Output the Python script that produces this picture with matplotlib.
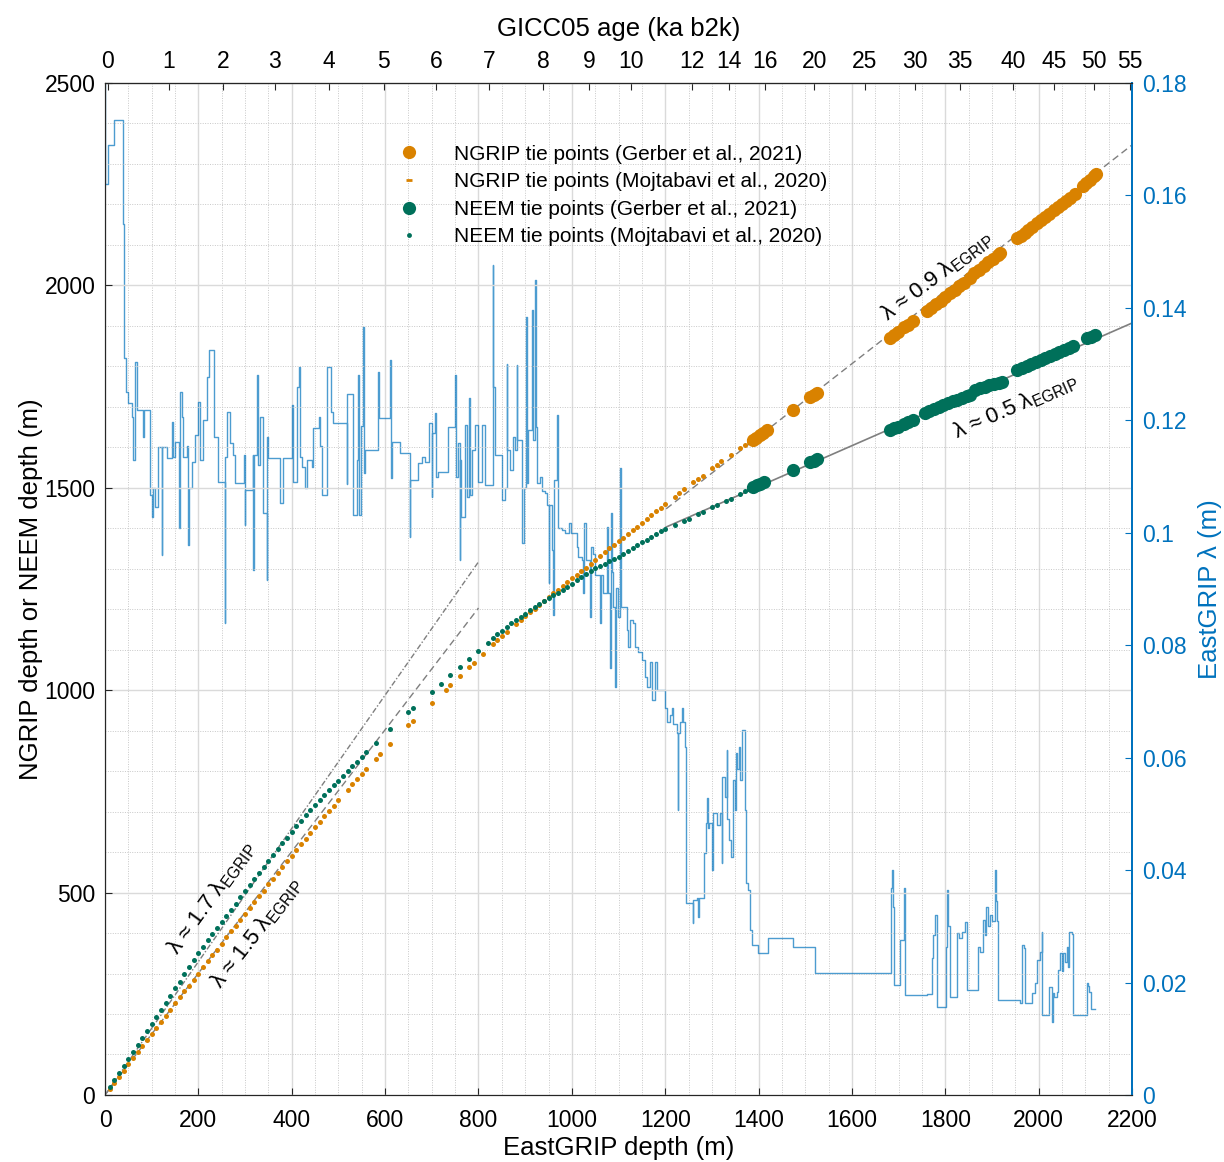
import matplotlib
matplotlib.use("Agg")
import matplotlib.pyplot as plt
from matplotlib.ticker import MultipleLocator
from matplotlib.lines import Line2D

plt.rcParams['font.family'] = ['Liberation Sans', 'DejaVu Sans']
plt.rcParams['mathtext.fontset'] = 'custom'
plt.rcParams['mathtext.rm'] = 'Liberation Sans'

ORANGE = '#D98200'
GREEN = '#00705A'
BLUE = '#0072BD'
GREY = '#7F7F7F'

# --- GICC05 age axis: age labels and the EastGRIP depth where each sits
age_labels = ['0', '1', '2', '3', '4', '5', '6', '7', '8', '9', '10', '12', '14',
              '16', '20', '25', '30', '35', '40', '45', '50', '55']
age_depth = [6, 137, 253, 364, 479, 597, 710, 822, 938, 1037, 1126, 1257, 1337,
             1413, 1519, 1628, 1735, 1832, 1946, 2033, 2119, 2196]

# --- NGRIP tie points (Mojtabavi et al., 2020): EastGRIP depth vs NGRIP depth
ngrip_moj_egrip = [10, 20, 30, 40, 50, 60, 70, 80, 90, 100, 110, 120, 130, 140, 150, 160,
                   170, 180, 190, 200, 210, 220, 230, 240, 250, 260, 270, 280, 290, 300,
                   310, 320, 330, 340, 350, 360, 370, 380, 390, 400, 410, 420, 430, 440,
                   450, 460, 470, 480, 490, 500, 520, 530, 540, 550, 560, 580, 590,
                   610, 650, 660, 700, 730, 740, 760,
                   780, 790, 810, 830, 840, 850, 860, 880, 890, 900, 910,
                   920, 930, 940, 950, 960, 970, 980, 990, 1000, 1010, 1020, 1030, 1040,
                   1050, 1060, 1070, 1080, 1090, 1100, 1110, 1120, 1130, 1140, 1150, 1160,
                   1170, 1180, 1190, 1200, 1220, 1230, 1240, 1260, 1270, 1280, 1300, 1310,
                   1320, 1340, 1360, 1370, 1380]
ngrip_moj_depth = [15, 30, 45, 60, 76, 91, 106, 121, 136, 151, 166, 181, 196, 211, 226, 241,
                   256, 270, 285, 300, 315, 330, 345, 359, 374, 389, 404, 418, 433, 447,
                   462, 476, 491, 505, 520, 534, 549, 563, 577, 591, 605, 619, 633, 647,
                   661, 675, 689, 702, 715, 728, 754, 767, 780, 793, 805, 830, 843,
                   867, 914, 925, 968, 1001, 1012, 1034,
                   1056, 1067, 1090, 1113, 1124, 1134, 1144, 1163, 1173,
                   1182, 1192, 1201, 1211, 1220, 1230, 1239, 1248, 1257, 1267, 1276, 1285,
                   1294, 1303, 1312, 1322, 1331, 1341, 1350, 1359, 1368, 1377, 1386, 1395,
                   1404, 1414, 1423, 1433, 1442, 1451, 1460, 1478, 1487, 1496, 1513, 1522,
                   1530, 1548, 1557, 1565, 1582, 1598, 1606, 1614]

# --- NEEM tie points (Mojtabavi et al., 2020)
neem_moj_egrip = [10, 20, 30, 40, 50, 60, 70, 80, 90, 100, 110, 120, 130, 140, 150, 160,
                  170, 180, 190, 200, 210, 220, 230, 240, 250, 260, 270, 280, 290, 300,
                  310, 320, 330, 340, 350, 360, 370, 380, 390, 400, 410, 420, 430, 440,
                  450, 460, 470, 480, 490, 500, 510, 520, 530, 540, 550, 560, 580,
                  610, 650, 660, 700, 720,
                  740, 760, 780, 800, 820, 830, 840, 850, 860,
                  870, 880, 890, 900, 910, 920, 930, 940, 950, 960, 970, 980, 990, 1000,
                  1010, 1020, 1030, 1040, 1050, 1060, 1070, 1080, 1090, 1100, 1110, 1120,
                  1130, 1140, 1150, 1160, 1170, 1180, 1190, 1200, 1220, 1240, 1250, 1270,
                  1280, 1300, 1310, 1330, 1340, 1360, 1370, 1380]
neem_moj_depth = [19, 38, 55, 72, 89, 106, 123, 140, 158, 175, 193, 210, 228, 245, 263, 280,
                  298, 315, 333, 350, 366, 382, 398, 413, 428, 442, 457, 472, 488, 503,
                  518, 533, 548, 563, 578, 592, 607, 622, 636, 650, 664, 677, 691, 704,
                  717, 729, 741, 753, 765, 776, 788, 800, 812, 823, 835, 846, 870,
                  903, 945, 956, 996, 1016,
                  1037, 1057, 1077, 1097, 1117, 1128, 1138, 1147, 1156,
                  1165, 1173, 1181, 1189, 1198, 1206, 1213, 1220, 1227, 1234,
                  1241, 1248, 1256, 1263, 1272, 1280, 1288, 1295, 1301, 1306, 1312, 1318,
                  1324, 1330, 1337, 1344, 1351, 1358, 1365, 1372, 1379, 1386, 1392, 1398,
                  1408, 1417, 1423, 1434, 1440, 1452, 1457, 1468, 1473, 1485, 1491, 1497]

# --- NGRIP tie points (Gerber et al., 2021)
ngrip_ger_egrip = [1388, 1395, 1403, 1410, 1418, 1474, 1510, 1518, 1525,
                   1682, 1690, 1698, 1712, 1720, 1731,
                   1761, 1770, 1780, 1790, 1800, 1810, 1820, 1830, 1840, 1853,
                   1862, 1872, 1882, 1892, 1902, 1912, 1917,
                   1954, 1962, 1970, 1978, 1986,
                   1996, 2005, 2014, 2023, 2032, 2041, 2050, 2059, 2068, 2077,
                   2094, 2102, 2110, 2118, 2123]
ngrip_ger_depth = [1618, 1624, 1630, 1636, 1643, 1692, 1724, 1729, 1734,
                   1870, 1877, 1884, 1896, 1903, 1911,
                   1936, 1944, 1953, 1962, 1971, 1980, 1989, 1998, 2007, 2019,
                   2030, 2039, 2048, 2057, 2066, 2075, 2080,
                   2116, 2123, 2130, 2137, 2144,
                   2153, 2161, 2169, 2177, 2185, 2193, 2201, 2209, 2217, 2225,
                   2245, 2253, 2261, 2269, 2275]

# --- NEEM tie points (Gerber et al., 2021)
neem_ger_egrip = [1388, 1396, 1404, 1412, 1474, 1510, 1518, 1525,
                  1682, 1690, 1698, 1712, 1720, 1731,
                  1757, 1766, 1776, 1786, 1796, 1806, 1816, 1826, 1836, 1846, 1853,
                  1864, 1874, 1884, 1894, 1904, 1914, 1921,
                  1954, 1964, 1974, 1984, 1994, 2004, 2014, 2024, 2034, 2044, 2054, 2064, 2074,
                  2104, 2112, 2120]
neem_ger_depth = [1502, 1506, 1510, 1514, 1544, 1564, 1567, 1570,
                  1643, 1647, 1651, 1658, 1662, 1667,
                  1685, 1689, 1694, 1699, 1704, 1709, 1714, 1718, 1722, 1727, 1730,
                  1742, 1746, 1750, 1754, 1757, 1760, 1762,
                  1791, 1796, 1800, 1805, 1810, 1815, 1820, 1825, 1830, 1836, 1841, 1846, 1851,
                  1869, 1873, 1877]

# --- reference lines (EastGRIP depth, other-core depth)
line17_x, line17_y = [0, 800], [0, 1317]
line15_x, line15_y = [0, 800], [0, 1203]
line09_x, line09_y = [1202, 2200], [1448, 2347]
line05_x, line05_y = [1202, 2200], [1403, 1907]

# --- EastGRIP annual layer thickness lambda (m), step values
lam_depth = [0, 0.6, 6, 20, 38, 41, 46, 50, 58, 60, 64, 68, 82, 84, 96, 101, 103, 106,
             114, 121, 122, 133, 143, 146, 150, 159, 160, 165, 168, 175, 178, 179, 186,
             193, 199, 203, 210, 218, 223, 233, 234, 240, 242, 257, 258, 262, 268, 275,
             278, 298, 299, 300, 316, 318, 319, 326, 327, 332, 339, 346, 347, 350, 375,
             381, 400, 402, 411, 416, 418, 422, 428, 432, 443, 446, 458, 460, 465, 475,
             478, 484, 488, 518, 519, 532, 539, 542, 545, 549, 553, 555, 557, 585, 587,
             611, 612, 614, 632, 653, 654, 670, 679, 685, 694, 700, 701, 707, 710, 713,
             735, 750, 752, 756, 760, 761, 763, 771, 775, 780, 782, 786, 793, 800, 808,
             814, 831, 832, 836, 850, 857, 861, 862, 868, 874, 878, 882, 883, 893, 898,
             901, 903, 906, 914, 916, 921, 923, 926, 931, 935, 943, 947, 950, 952, 958,
             960, 962, 968, 970, 979, 985, 993, 998, 1003, 1011, 1013, 1022, 1024, 1025,
             1030, 1039, 1040, 1046, 1050, 1060, 1062, 1066, 1075, 1077, 1082, 1083, 1085,
             1088, 1092, 1094, 1099, 1103, 1105, 1110, 1118, 1120, 1125, 1130, 1135, 1142,
             1150, 1157, 1161, 1168, 1172, 1178, 1182, 1200, 1204, 1210, 1215, 1217, 1225,
             1227, 1228, 1232, 1236, 1238, 1242, 1245, 1259, 1260, 1268, 1270, 1272, 1283,
             1287, 1289, 1291, 1294, 1300, 1302, 1310, 1317, 1321, 1322, 1328, 1332, 1333,
             1337, 1341, 1345, 1349, 1351, 1354, 1357, 1360, 1364, 1370, 1373, 1378, 1382,
             1386, 1399, 1420, 1474, 1521, 1684, 1686, 1688, 1690, 1703, 1712, 1714, 1761,
             1772, 1774, 1778, 1782, 1802, 1804, 1806, 1810, 1825, 1830, 1836, 1842, 1846,
             1870, 1875, 1881, 1884, 1887, 1892, 1896, 1900, 1907, 1909, 1911, 1913, 1960,
             1964, 1968, 1971, 1986, 1992, 1997, 2003, 2007, 2008, 2022, 2028, 2030, 2033,
             2039, 2042, 2046, 2050, 2052, 2057, 2061, 2063, 2065, 2071, 2073, 2104, 2106,
             2108, 2112, 2121]
lam_value = [0.190, 0.162, 0.169, 0.1735, 0.155, 0.131, 0.125, 0.123, 0.1206, 0.113, 0.1304,
             0.1219, 0.117, 0.1219, 0.1067, 0.1028, 0.108, 0.1045, 0.1153, 0.096, 0.1153,
             0.1133, 0.1197, 0.1135, 0.1162, 0.1009, 0.125, 0.1206, 0.1135, 0.1155, 0.0978,
             0.108, 0.1125, 0.1174, 0.1233, 0.113, 0.120, 0.1277, 0.1325, 0.1286, 0.117,
             0.117, 0.109, 0.084, 0.1135, 0.1215, 0.116, 0.1138, 0.1088, 0.1138, 0.1014,
             0.1076, 0.1138, 0.0934, 0.1138, 0.128, 0.112, 0.1206, 0.1035, 0.0916, 0.117,
             0.1133, 0.1053, 0.1133, 0.1228, 0.109, 0.126, 0.1295, 0.1135, 0.1117, 0.108,
             0.113, 0.1117, 0.1187, 0.1205, 0.1155, 0.1067, 0.1295, 0.1295, 0.1215, 0.1196,
             0.1086, 0.1246, 0.1032, 0.113, 0.128, 0.1032, 0.119, 0.1366, 0.1107, 0.1147,
             0.1286, 0.1204, 0.1307, 0.1098, 0.1162, 0.1142, 0.0993, 0.1094, 0.1124, 0.1135,
             0.1125, 0.1196, 0.1064, 0.1178, 0.1213, 0.110, 0.1108, 0.1188, 0.128, 0.110,
             0.116, 0.0952, 0.113, 0.1028, 0.1192, 0.1064, 0.124, 0.1067, 0.1147, 0.1192,
             0.109, 0.1192, 0.1085, 0.1477, 0.126, 0.1139, 0.1058, 0.108, 0.130, 0.1147,
             0.1112, 0.117, 0.1147, 0.1299, 0.1165, 0.0982, 0.108, 0.1384, 0.1089, 0.1183,
             0.1396, 0.1165, 0.145, 0.1188, 0.1089, 0.110, 0.1075, 0.1071, 0.105, 0.091,
             0.105, 0.097, 0.0854, 0.1094, 0.121, 0.1008, 0.1005, 0.100, 0.1018, 0.100, 0.100,
             0.0975, 0.0957, 0.0952, 0.0893, 0.1018, 0.0952, 0.085, 0.0975, 0.0963, 0.0925,
             0.084, 0.0925, 0.0893, 0.101, 0.0893, 0.076, 0.1035, 0.093, 0.0868, 0.0726,
             0.0902, 0.085, 0.1115, 0.0868, 0.0868, 0.0827, 0.0797, 0.0845, 0.084, 0.0797,
             0.0788, 0.0774, 0.0744, 0.0726, 0.077, 0.0703, 0.077, 0.072, 0.0688, 0.0664,
             0.0675, 0.0688, 0.066, 0.0644, 0.0507, 0.0644, 0.0664, 0.0688, 0.0664, 0.0619,
             0.0342, 0.0306, 0.0346, 0.035, 0.0317, 0.035, 0.043, 0.0484, 0.0528, 0.0475,
             0.0484, 0.040, 0.0502, 0.048, 0.0502, 0.0413, 0.0566, 0.053, 0.0614, 0.049,
             0.0454, 0.0424, 0.056, 0.0507, 0.0608, 0.058, 0.0619, 0.056, 0.0649, 0.0507,
             0.0377, 0.0365, 0.0294, 0.0267, 0.0253, 0.0279, 0.0263, 0.0217, 0.0368, 0.040,
             0.0335, 0.0196, 0.0276, 0.0368, 0.0178, 0.018, 0.0244, 0.0285, 0.032, 0.0157,
             0.0263, 0.0365, 0.030, 0.0174, 0.0288, 0.028, 0.029, 0.0308, 0.0187, 0.0263,
             0.0254, 0.0311, 0.0285, 0.0334, 0.030, 0.032, 0.031, 0.040, 0.0345, 0.031,
             0.0169, 0.0164, 0.0267, 0.0262, 0.0164, 0.0181, 0.0199, 0.024, 0.0254, 0.029,
             0.0142, 0.0192, 0.013, 0.0181, 0.0175, 0.0183, 0.0222, 0.0253, 0.022, 0.0253,
             0.0237, 0.0263, 0.0228, 0.029, 0.0287, 0.0142, 0.0199, 0.0194, 0.0183, 0.0153,
             0.0153]

fig = plt.figure(figsize=(12.24, 11.62), dpi=100)
ax = fig.add_axes([0.0858, 0.0577, 0.8391, 0.8709])   # lambda axis (right)
axd = ax.twinx()                                      # depth axis (left)

# lambda record
ax.plot(lam_depth, lam_value, drawstyle='steps-post', color=BLUE, lw=1.0, alpha=0.7)
ax.set_xlim(0, 2200)
ax.set_ylim(0, 0.18)
ax.yaxis.tick_right()
ax.yaxis.set_label_position('right')
ax.set_yticks([0, 0.02, 0.04, 0.06, 0.08, 0.1, 0.12, 0.14, 0.16, 0.18],
              ['0', '0.02', '0.04', '0.06', '0.08', '0.1', '0.12', '0.14', '0.16', '0.18'])
ax.set_xticks(range(0, 2201, 200))
ax.xaxis.set_minor_locator(MultipleLocator(50))
ax.grid(which='major', axis='x', color='#DADADA', lw=1.0)
ax.grid(which='minor', axis='x', color='#C8C8C8', lw=0.7, ls=(0, (1, 1.5)))
ax.tick_params(axis='x', direction='in', length=5, labelsize=16.5, pad=10, color='#262626')
ax.tick_params(axis='x', which='minor', length=0)
ax.tick_params(axis='y', direction='in', length=5, labelsize=16.5, pad=7,
               colors=BLUE)
ax.set_xlabel('EastGRIP depth (m)', fontsize=18.5, labelpad=3)
ax.set_ylabel('EastGRIP λ (m)', fontsize=18.5, color=BLUE, labelpad=8)
ax.spines['right'].set_color(BLUE)
ax.spines['right'].set_linewidth(1.4)

# depth axis
axd.set_ylim(0, 2500)
axd.yaxis.tick_left()
axd.yaxis.set_label_position('left')
axd.set_yticks(range(0, 2501, 500))
axd.yaxis.set_minor_locator(MultipleLocator(100))
axd.grid(which='major', axis='y', color='#DADADA', lw=1.0)
axd.grid(which='minor', axis='y', color='#C8C8C8', lw=0.7, ls=(0, (1, 1.5)))
axd.tick_params(axis='y', direction='in', length=5, labelsize=16.5, pad=7, color='#262626')
axd.tick_params(axis='y', which='minor', length=0)
axd.set_ylabel('NGRIP depth or NEEM depth (m)', fontsize=18.5, labelpad=1)
axd.spines['right'].set_color(BLUE)
axd.spines['right'].set_linewidth(1.4)
for s in ['left', 'top', 'bottom']:
    axd.spines[s].set_color('#262626')
    ax.spines[s].set_color('#262626')

# reference lines
axd.plot(line17_x, line17_y, color=GREY, lw=1.0, ls=(0, (4, 1.5, 1, 1.5)))
axd.plot(line15_x, line15_y, color=GREY, lw=1.0, ls=(0, (5, 3)))
axd.plot(line09_x, line09_y, color=GREY, lw=1.0, ls=(0, (5, 3)))
axd.plot(line05_x, line05_y, color=GREY, lw=1.2, ls='-')

# tie points
axd.plot(ngrip_moj_egrip, ngrip_moj_depth, 'o', color=ORANGE, ms=3.6, mec='none')
axd.plot(neem_moj_egrip, neem_moj_depth, 'o', color=GREEN, ms=3.6, mec='none')
axd.plot(ngrip_ger_egrip, ngrip_ger_depth, 'o', color=ORANGE, ms=9.5, mec='none')
axd.plot(neem_ger_egrip, neem_ger_depth, 'o', color=GREEN, ms=9.5, mec='none')

# slope annotations
txt_kw = dict(fontsize=16, ha='center', va='center', rotation_mode='anchor')
axd.text(228, 487, r'λ ≈ 1.7 λ$_{\rm EGRIP}$', rotation=54, **txt_kw)
axd.text(326, 400, r'λ ≈ 1.5 λ$_{\rm EGRIP}$', rotation=52, **txt_kw)
axd.text(1782, 2023, r'λ ≈ 0.9 λ$_{\rm EGRIP}$', rotation=37, **txt_kw)
axd.text(1951, 1700, r'λ ≈ 0.5 λ$_{\rm EGRIP}$', rotation=23.5, **txt_kw)

# age axis on top
top = axd.secondary_xaxis('top')
top.set_xticks(age_depth, age_labels)
top.tick_params(direction='in', length=5, labelsize=16.5, pad=7, color='#262626')
top.set_xlabel('GICC05 age (ka b2k)', fontsize=18.5, labelpad=10)
top.spines['top'].set_color('#262626')

handles = [
    Line2D([], [], ls='none', marker='o', ms=9.5, color=ORANGE, mec='none'),
    Line2D([], [], ls='none', marker='_', ms=4, mew=2, color=ORANGE),
    Line2D([], [], ls='none', marker='o', ms=9.5, color=GREEN, mec='none'),
    Line2D([], [], ls='none', marker='o', ms=3.5, color=GREEN, mec='none'),
]
labels = ['NGRIP tie points (Gerber et al., 2021)',
          'NGRIP tie points (Mojtabavi et al., 2020)',
          'NEEM tie points (Gerber et al., 2021)',
          'NEEM tie points (Mojtabavi et al., 2020)']
axd.legend(handles, labels, loc='upper left', bbox_to_anchor=(0.268, 0.9575),
           frameon=False, fontsize=15, handlelength=1.0, handletextpad=1.65,
           labelspacing=0.41, borderpad=0.4)

fig.savefig('out.png', dpi=100)
